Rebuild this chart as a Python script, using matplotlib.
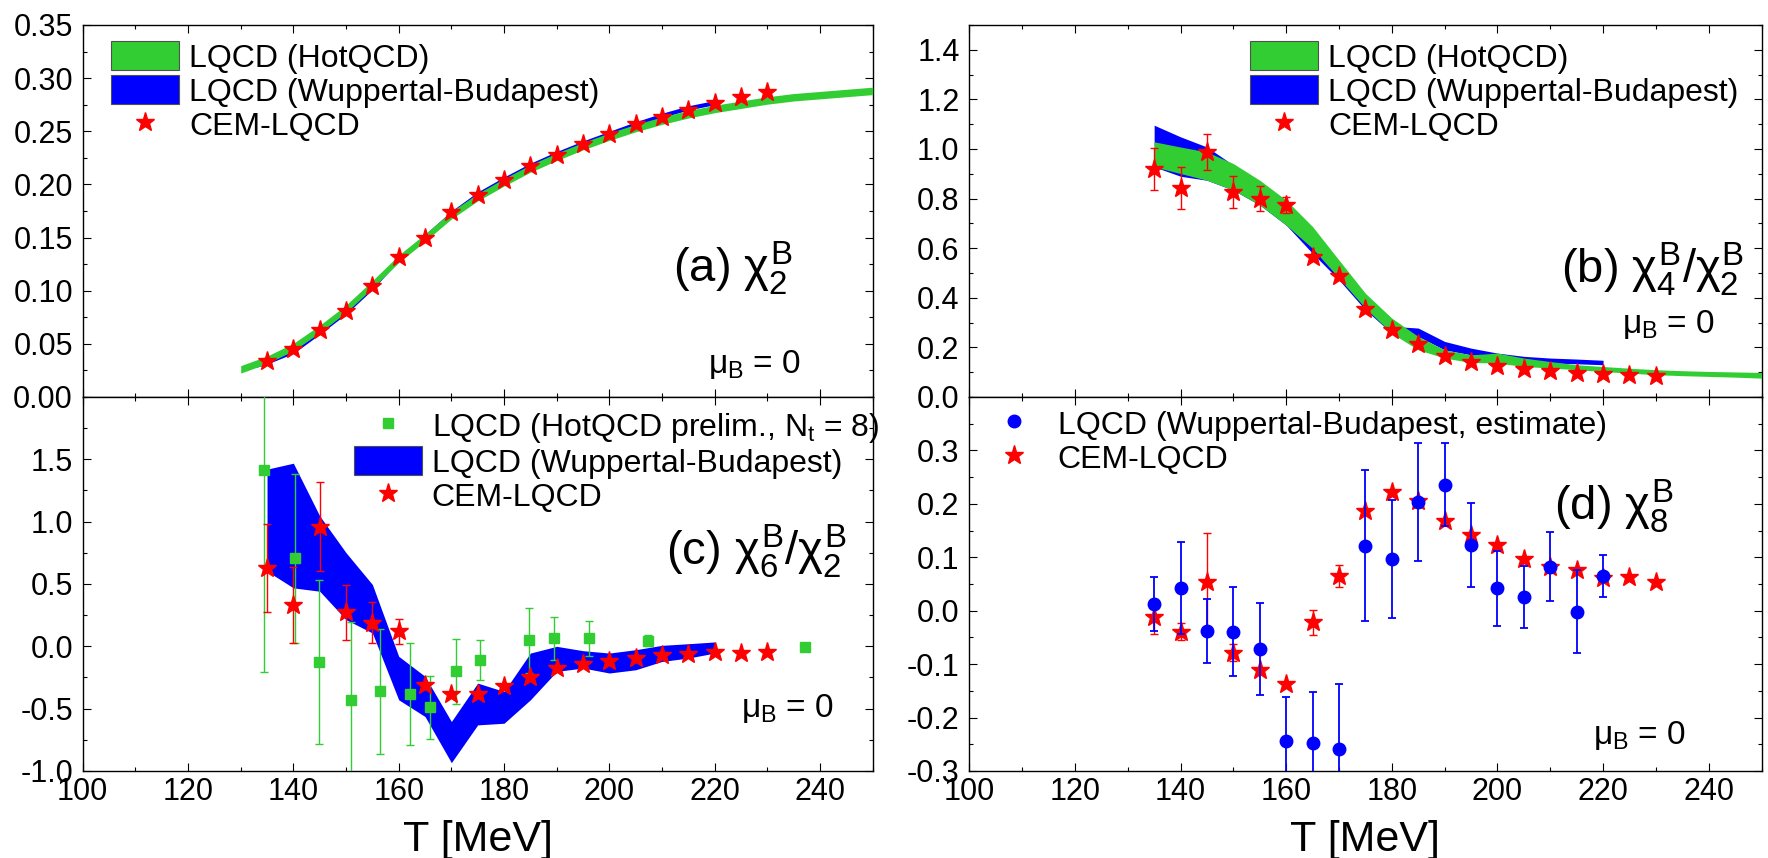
import numpy as np
import matplotlib
matplotlib.use('Agg')
import matplotlib.pyplot as plt
from matplotlib.patches import Patch
from matplotlib.lines import Line2D
from matplotlib.ticker import MultipleLocator, FormatStrFormatter

plt.rcParams['font.family'] = ['Liberation Sans', 'DejaVu Sans']
plt.rcParams['mathtext.fontset'] = 'custom'
plt.rcParams['mathtext.rm'] = 'Liberation Sans'
plt.rcParams['mathtext.it'] = 'Liberation Sans'
plt.rcParams['mathtext.bf'] = 'Liberation Sans:bold'
plt.rcParams['axes.unicode_minus'] = False

GREEN = '#32cd32'
BLUE = '#0000ff'
RED = '#ff0000'

# ---- (a) chi2 ----
T_hot_a = [130, 135, 140, 145, 150, 155, 160, 165, 170, 175, 180, 185, 190,
           195, 200, 205, 210, 215, 220, 225, 230, 235, 240, 245, 250]
chi2_hot = [0.026, 0.035, 0.047, 0.064, 0.083, 0.106, 0.130, 0.150, 0.171, 0.188,
            0.202, 0.215, 0.226, 0.236, 0.245, 0.253, 0.260, 0.266, 0.271, 0.275,
            0.279, 0.282, 0.284, 0.286, 0.288]
chi2_hot_err = 0.0035
T_wb_a = [133, 135, 140, 145, 150, 155, 160, 165, 170, 175, 180, 185, 190, 195,
          200, 205, 210, 215, 220]
chi2_wb = [0.030, 0.033, 0.043, 0.061, 0.080, 0.103, 0.130, 0.151, 0.173, 0.191,
           0.205, 0.218, 0.229, 0.239, 0.248, 0.257, 0.265, 0.272, 0.277]
chi2_wb_err = 0.002

T_cem = [135, 140, 145, 150, 155, 160, 165, 170, 175, 180, 185, 190, 195, 200,
         205, 210, 215, 220, 225, 230]
chi2_cem = [0.0335, 0.045, 0.063, 0.0805, 0.1046, 0.1316, 0.1494, 0.174, 0.190,
            0.204, 0.2174, 0.2278, 0.2378, 0.2475, 0.2566, 0.263, 0.270, 0.277,
            0.2826, 0.2867]

# ---- (b) chi4/chi2 ----
T_hot_b = [135, 140, 145, 150, 155, 160, 165, 170, 175, 180, 185, 190, 195, 200,
           205, 210, 215, 220, 225, 230, 235, 240, 245, 250]
r42_hot_hi = [1.029, 1.008, 0.988, 0.941, 0.874, 0.794, 0.687, 0.552, 0.418, 0.318,
              0.244, 0.190, 0.170, 0.177, 0.157, 0.143, 0.130, 0.123, 0.116, 0.110,
              0.106, 0.103, 0.101, 0.099]
r42_hot_lo = [0.928, 0.901, 0.874, 0.834, 0.774, 0.693, 0.599, 0.479, 0.358, 0.257,
              0.190, 0.157, 0.139, 0.137, 0.123, 0.117, 0.110, 0.103, 0.096, 0.090,
              0.086, 0.083, 0.080, 0.076]
T_wb_b = [135, 140, 145, 150, 155, 160, 165, 170, 175, 180, 185, 190, 195, 200,
          205, 210, 215, 220]
r42_wb_hi = [1.096, 1.049, 1.008, 0.935, 0.868, 0.774, 0.646, 0.526, 0.395, 0.285,
             0.278, 0.224, 0.197, 0.177, 0.164, 0.157, 0.153, 0.148]
r42_wb_lo = [0.928, 0.890, 0.874, 0.834, 0.774, 0.693, 0.579, 0.472, 0.351, 0.257,
             0.244, 0.190, 0.170, 0.157, 0.143, 0.137, 0.134, 0.130]
r42_cem = [0.921, 0.843, 0.988, 0.827, 0.800, 0.774, 0.566, 0.488, 0.354, 0.271,
           0.215, 0.166, 0.143, 0.126, 0.113, 0.103, 0.097, 0.093, 0.090, 0.086]
r42_cem_err = [0.085, 0.084, 0.072, 0.063, 0.050, 0.032, 0, 0, 0, 0,
               0, 0, 0, 0, 0, 0, 0, 0, 0, 0]

# ---- (c) chi6/chi2 ----
T_wb_c = [135, 140, 145, 150, 155, 160, 165, 170, 175, 180, 185, 190, 195, 200,
          205, 210, 215, 220]
r62_wb_hi = [1.421, 1.469, 1.046, 0.751, 0.496, -0.080, -0.241, -0.603, -0.295,
             -0.362, -0.054, 0.000, -0.035, -0.054, -0.027, 0.008, 0.021, 0.035]
r62_wb_lo = [0.603, 0.469, 0.442, 0.214, 0.107, -0.429, -0.563, -0.933, -0.630,
             -0.617, -0.429, -0.201, -0.174, -0.214, -0.188, -0.121, -0.094, -0.054]
T_hot_c = [134.5, 140.4, 144.9, 150.9, 156.5, 162.1, 165.9, 170.9, 175.5, 184.7,
           189.5, 196.1, 207.3, 237.1]
r62_hot = [1.416, 0.705, -0.126, -0.432, -0.362, -0.381, -0.490, -0.201, -0.113,
           0.048, 0.064, 0.064, 0.046, -0.008]
r62_hot_err = [1.62, 0.675, 0.66, 0.63, 0.50, 0.41, 0.25, 0.26, 0.16, 0.26, 0.17,
               0.14, 0.045, 0.02]
r62_cem = [0.630, 0.335, 0.960, 0.273, 0.188, 0.121, -0.314, -0.381, -0.383,
           -0.322, -0.247, -0.174, -0.139, -0.121, -0.094, -0.067, -0.062, -0.048,
           -0.054, -0.046]
r62_cem_err = [0.355, 0.305, 0.355, 0.222, 0.165, 0.10, 0, 0, 0, 0,
               0, 0, 0, 0, 0, 0, 0, 0, 0, 0]

# ---- (d) chi8 ----
T_wb_d = [135, 140, 145, 150, 155, 160, 165, 170, 175, 180, 185, 190, 195, 200,
          205, 210, 215, 220]
chi8_wb = [0.0125, 0.043, -0.038, -0.039, -0.072, -0.244, -0.2475, -0.258, 0.122,
           0.097, 0.203, 0.236, 0.123, 0.042, 0.025, 0.0825, -0.002, 0.065]
chi8_wb_err = [0.05, 0.086, 0.06, 0.083, 0.086, 0.083, 0.095, 0.12, 0.142, 0.11,
               0.11, 0.077, 0.079, 0.07, 0.058, 0.064, 0.078, 0.04]
chi8_cem = [-0.011, -0.039, 0.053, -0.079, -0.111, -0.1375, -0.022, 0.065, 0.1875,
            0.222, 0.206, 0.167, 0.142, 0.123, 0.096, 0.081, 0.076, 0.061, 0.0625,
            0.054]
chi8_cem_err = [0.033, 0.016, 0.093, 0.016, 0, 0, 0.023, 0.02, 0, 0,
                0, 0, 0, 0, 0, 0, 0, 0, 0, 0]

fig = plt.figure(figsize=(17.68, 8.58), dpi=100)
L, R = 0.04678, 0.54825
WL, WR = 0.44683, 0.44808
ax_a = fig.add_axes([L, 0.5373, WL, 0.43357])
ax_b = fig.add_axes([R, 0.5373, WR, 0.43357])
ax_c = fig.add_axes([L, 0.1014, WL, 0.4359])
ax_d = fig.add_axes([R, 0.1014, WR, 0.4359])

for ax in (ax_a, ax_b, ax_c, ax_d):
    ax.set_xlim(100, 250)
    ax.xaxis.set_major_locator(MultipleLocator(20))
    ax.xaxis.set_minor_locator(MultipleLocator(10))
    ax.tick_params(which='both', direction='in', top=True, right=True, width=0.8)
    ax.tick_params(which='major', length=5.8, labelsize=22)
    ax.tick_params(which='minor', length=3.1)
    ax.tick_params(axis='y', pad=7)
    ax.tick_params(axis='x', pad=4)
    for s in ax.spines.values():
        s.set_linewidth(1.0)
for ax in (ax_a, ax_b):
    ax.tick_params(labelbottom=False)

star_kw = dict(fmt='*', color=RED, ms=14, ecolor=RED, elinewidth=1, capsize=3,
               capthick=1, zorder=6)
PANEL_FS = 34
MU_FS = 24

# (a)
ax_a.fill_between(T_wb_a, np.array(chi2_wb) - chi2_wb_err, np.array(chi2_wb) + chi2_wb_err,
                  color=BLUE, lw=0, zorder=2)
ax_a.fill_between(T_hot_a, np.array(chi2_hot) - chi2_hot_err, np.array(chi2_hot) + chi2_hot_err,
                  color=GREEN, lw=0, zorder=3)
ax_a.plot(T_cem, chi2_cem, '*', color=RED, ms=14, zorder=6)
ax_a.set_ylim(0, 0.35)
ax_a.yaxis.set_major_locator(MultipleLocator(0.05))
ax_a.yaxis.set_minor_locator(MultipleLocator(0.025))
ax_a.yaxis.set_major_formatter(FormatStrFormatter('%.2f'))
ax_a.text(212.0, 0.108, r'(a) $\chi_2^B$', fontsize=PANEL_FS)
ax_a.text(218.7, 0.023, r'$\mu_B$ = 0', fontsize=MU_FS)

# (b)
ax_b.fill_between(T_wb_b, r42_wb_lo, r42_wb_hi, color=BLUE, lw=0, zorder=2)
ax_b.fill_between(T_hot_b, r42_hot_lo, r42_hot_hi, color=GREEN, lw=0, zorder=3)
ax_b.errorbar(T_cem, r42_cem, yerr=r42_cem_err, **star_kw)
ax_b.set_ylim(0, 1.5)
ax_b.yaxis.set_major_locator(MultipleLocator(0.2))
ax_b.yaxis.set_minor_locator(MultipleLocator(0.1))
ax_b.yaxis.set_major_formatter(FormatStrFormatter('%.1f'))
ax_b.text(212.0, 0.459, r'(b) $\chi_4^B/\chi_2^B$', fontsize=PANEL_FS)
ax_b.text(223.5, 0.257, r'$\mu_B$ = 0', fontsize=MU_FS)

# (c)
ax_c.fill_between(T_wb_c, r62_wb_lo, r62_wb_hi, color=BLUE, lw=0, zorder=2)
ax_c.errorbar(T_hot_c, r62_hot, yerr=r62_hot_err, fmt='s', color=GREEN, ms=6.5,
              ecolor=GREEN, elinewidth=1, capsize=3, capthick=1, zorder=4)
ax_c.errorbar(T_cem, r62_cem, yerr=r62_cem_err, **star_kw)
ax_c.set_ylim(-1.0, 2.0)
ax_c.set_yticks([-1.0, -0.5, 0.0, 0.5, 1.0, 1.5])
ax_c.yaxis.set_minor_locator(MultipleLocator(0.25))
ax_c.yaxis.set_major_formatter(FormatStrFormatter('%.1f'))
ax_c.text(210.8, 0.657, r'(c) $\chi_6^B/\chi_2^B$', fontsize=PANEL_FS)
ax_c.text(225.0, -0.563, r'$\mu_B$ = 0', fontsize=MU_FS)

# (d)
ax_d.errorbar(T_cem, chi8_cem, yerr=chi8_cem_err, **star_kw)
ax_d.errorbar(T_wb_d, chi8_wb, yerr=chi8_wb_err, fmt='o', color=BLUE, ms=9,
              ecolor=BLUE, elinewidth=1.3, capsize=3.2, capthick=1.3, zorder=7)
ax_d.set_ylim(-0.3, 0.4)
ax_d.set_yticks([-0.3, -0.2, -0.1, 0.0, 0.1, 0.2, 0.3])
ax_d.yaxis.set_minor_locator(MultipleLocator(0.05))
ax_d.yaxis.set_major_formatter(FormatStrFormatter('%.1f'))
ax_d.text(210.8, 0.17, r'(d) $\chi_8^B$', fontsize=PANEL_FS)
ax_d.text(218.0, -0.249, r'$\mu_B$ = 0', fontsize=MU_FS)

# legends
leg_kw = dict(loc='upper left', frameon=False, fontsize=23, handlelength=2.13,
              handleheight=1.03, labelspacing=0.05, handletextpad=0.31,
              borderpad=0, borderaxespad=0)
h_hot = Patch(facecolor=GREEN, edgecolor='#505050', linewidth=0.8)
h_wb = Patch(facecolor=BLUE, edgecolor='#505050', linewidth=0.8)
h_star = Line2D([], [], marker='*', color=RED, ls='none', ms=14)
h_sq = Line2D([], [], marker='s', color=GREEN, ls='none', ms=6.5)
h_dot = Line2D([], [], marker='o', color=BLUE, ls='none', ms=9)

ax_a.legend([h_hot, h_wb, h_star],
            ['LQCD (HotQCD)', 'LQCD (Wuppertal-Budapest)', 'CEM-LQCD'],
            bbox_to_anchor=(0.0358, 0.957), **leg_kw)
ax_b.legend([h_hot, h_wb, h_star],
            ['LQCD (HotQCD)', 'LQCD (Wuppertal-Budapest)', 'CEM-LQCD'],
            bbox_to_anchor=(0.3546, 0.957), **leg_kw)
ax_c.legend([h_sq, h_wb, h_star],
            [r'LQCD (HotQCD prelim., N$_t$ = 8)', 'LQCD (Wuppertal-Budapest)', 'CEM-LQCD'],
            bbox_to_anchor=(0.343, 0.965), **leg_kw)
ax_d.legend([h_dot, h_star],
            ['LQCD (Wuppertal-Budapest, estimate)', 'CEM-LQCD'],
            bbox_to_anchor=(0.013, 0.97), **leg_kw)

fig.text(L + WL / 2, 1 - 840 / 858, 'T [MeV]', fontsize=31, ha='center', va='center')
fig.text(R + WR / 2, 1 - 840 / 858, 'T [MeV]', fontsize=31, ha='center', va='center')

fig.savefig('out.png', dpi=100)
